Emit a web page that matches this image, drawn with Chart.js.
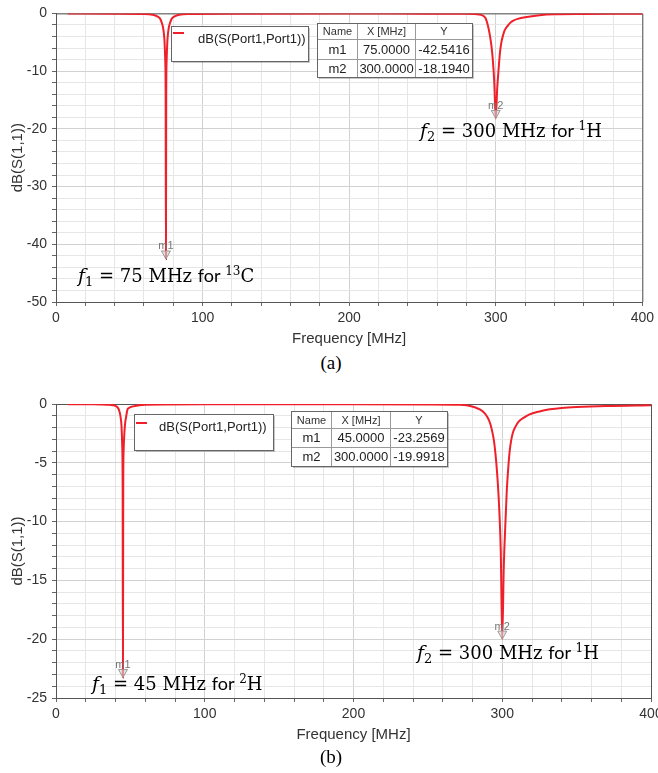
<!DOCTYPE html>
<html lang="en">
<head>
<meta charset="UTF-8">
<title>dB(S(1,1)) dual-tuned coil</title>
<script src="https://cdn.jsdelivr.net/npm/chart.js"></script>
<style>
  html, body { margin: 0; padding: 0; overflow: hidden; background: #fff; }
  body { width: 658px; height: 773px; position: relative; }
  canvas { position: absolute; left: 0; }
  .cap { position: absolute; left: 0; width: 662px; text-align: center;
         font-family: "Liberation Serif", serif; font-size: 19px; line-height: 22px; color: #000; }
</style>
</head>
<body>
<canvas id="chartA" width="658" height="350" style="top:0px"></canvas>
<div class="cap" style="top:352px">(a)</div>
<canvas id="chartB" width="670" height="360" style="top:390px"></canvas>
<div class="cap" style="top:746px">(b)</div>

<script>
// ---- data ----
const seriesName = 'dB(S(Port1,Port1))';
const xTicks = [0, 100, 200, 300, 400];

// (a) 75 MHz / 300 MHz
const freqA = [8, 40, 60, 66, 69, 71, 72, 73, 73.5, 74, 74.5, 74.8, 75, 75.2, 75.5, 76, 76.5, 77, 78, 79, 81, 84, 90,
               120, 200, 250, 280, 286, 290, 293, 294, 295, 296, 297, 298, 299, 300, 301, 302, 303, 304, 305, 306,
               308, 310, 312, 315, 320, 330, 340, 360, 380, 400];
const dbA = [-0.02, -0.04, -0.1, -0.25, -0.5, -0.9, -1.5, -2.4, -3.3, -4.7, -8, -14, -42.54, -14, -8, -4.7, -3.3, -2.4, -1.5, -0.9, -0.5, -0.25, -0.1,
             -0.04, -0.03, -0.04, -0.06, -0.12, -0.25, -0.8, -1.5, -2.5, -3.8, -5.5, -8, -12, -18.19, -13, -9.5, -6.5, -4.8, -3.8, -3.0,
             -2.2, -1.6, -1.25, -0.95, -0.65, -0.3, -0.15, -0.1, -0.07, -0.05];
const yTicksA = [0, -10, -20, -30, -40, -50];
const markerNames = ['m1', 'm2'];
const markerFreqA = [75, 300];
const markerDbA = [-42.5416, -18.1940];

// (b) 45 MHz / 300 MHz
const freqB = [8, 25, 30, 36, 40, 42, 43, 43.5, 44, 44.5, 44.8, 45, 45.2, 45.5, 46, 46.5, 47, 48, 49, 52, 60,
               100, 200, 250, 270, 276, 282, 287, 290, 292, 294, 295, 296, 297, 298, 299, 300, 301, 302, 303, 304, 305, 306,
               307, 309, 311, 314, 318, 325, 332, 340, 350, 370, 400];
const dbB = [-0.02, -0.03, -0.04, -0.07, -0.15, -0.4, -0.8, -1.2, -1.8, -3.5, -7, -23.26, -7, -3.8, -2.4, -1.6, -1.2, -0.5, -0.34, -0.2, -0.06,
             -0.03, -0.03, -0.04, -0.06, -0.1, -0.3, -0.63, -1.1, -1.7, -2.8, -3.7, -5, -6.7, -9, -12.5, -19.99, -14, -10.5, -7.5, -5.5, -4, -3.1,
             -2.5, -1.9, -1.5, -1.2, -0.9, -0.63, -0.45, -0.33, -0.25, -0.16, -0.1];
const yTicksB = [0, -5, -10, -15, -20, -25];
const markerFreqB = [45, 300];
const markerDbB = [-23.2569, -19.9918];

// ---- overlay: frame, markers, legend box, marker table, notes ----
function drawRuns(ctx, x, y, runs) {
  ctx.textAlign = 'left';
  ctx.textBaseline = 'alphabetic';
  runs.forEach(r => {
    ctx.font = r.font;
    ctx.fillText(r.t, x, y + (r.dy || 0));
    x += ctx.measureText(r.t).width;
  });
}

function makeOverlay(cfg) {
  return {
    id: 'overlay',
    beforeDatasetsDraw(chart) {
      const { ctx, chartArea: a } = chart;
      ctx.save();
      ctx.strokeStyle = '#555';
      ctx.lineWidth = 1;
      ctx.beginPath();
      ctx.moveTo(a.left, a.top + 0.5); ctx.lineTo(a.right + 0.5, a.top + 0.5);
      ctx.lineTo(a.right + 0.5, a.bottom);
      ctx.stroke();
      ctx.restore();
    },
    afterDatasetsDraw(chart) {
      const { ctx } = chart;
      const xs = chart.scales.x, ys = chart.scales.y;
      ctx.save();

      // markers
      cfg.mFreq.forEach((f, i) => {
        const px = xs.getPixelForValue(f), py = ys.getPixelForValue(cfg.mDb[i]);
        ctx.beginPath();
        ctx.moveTo(px, py); ctx.lineTo(px - 4.5, py - 8); ctx.lineTo(px + 4.5, py - 8); ctx.closePath();
        ctx.fillStyle = 'rgba(210,210,210,0.6)'; ctx.fill();
        ctx.strokeStyle = '#999'; ctx.lineWidth = 1; ctx.stroke();
        ctx.fillStyle = '#777'; ctx.font = '11px "Liberation Sans"';
        ctx.textAlign = 'center'; ctx.textBaseline = 'bottom';
        ctx.fillText(markerNames[i], px, py - 7);
      });

      // legend box
      const L = cfg.legend;
      ctx.fillStyle = 'rgba(0,0,0,0.22)';
      ctx.fillRect(L.x + 2, L.y + 2, L.w, L.h);
      ctx.fillStyle = '#fff';
      ctx.fillRect(L.x, L.y, L.w, L.h);
      ctx.strokeStyle = '#666';
      ctx.strokeRect(L.x + 0.5, L.y + 0.5, L.w, L.h);
      ctx.strokeStyle = '#f0202a'; ctx.lineWidth = 2;
      ctx.beginPath(); ctx.moveTo(L.lx0, L.ly); ctx.lineTo(L.lx1, L.ly); ctx.stroke();
      ctx.fillStyle = '#222'; ctx.font = '13px "Liberation Sans"';
      ctx.textAlign = 'left'; ctx.textBaseline = 'middle';
      ctx.fillText(seriesName, L.tx, L.ty);

      // marker table
      const T = cfg.table, cx = T.xs, cy = T.ys;
      const w = cx[3] - cx[0], h = cy[3] - cy[0];
      ctx.fillStyle = 'rgba(0,0,0,0.22)';
      ctx.fillRect(cx[0] + 2, cy[0] + 2, w, h);
      ctx.fillStyle = '#fff';
      ctx.fillRect(cx[0], cy[0], w, h);
      ctx.lineWidth = 1;
      ctx.strokeStyle = '#999';
      ctx.beginPath();
      for (let i = 1; i < 3; i++) {
        ctx.moveTo(cx[i] + 0.5, cy[0]); ctx.lineTo(cx[i] + 0.5, cy[3]);
        ctx.moveTo(cx[0], cy[i] + 0.5); ctx.lineTo(cx[3], cy[i] + 0.5);
      }
      ctx.stroke();
      ctx.strokeStyle = '#666';
      ctx.strokeRect(cx[0] + 0.5, cy[0] + 0.5, w, h);
      const rows = [['Name', 'X [MHz]', 'Y']].concat(
        markerNames.map((n, i) => [n, cfg.mFreq[i].toFixed(4), cfg.mDb[i].toFixed(4)]));
      ctx.textAlign = 'center'; ctx.textBaseline = 'middle';
      rows.forEach((r, ri) => {
        ctx.font = ri === 0 ? '11px "Liberation Sans"' : '13px "Liberation Sans"';
        ctx.fillStyle = ri === 0 ? '#333' : '#222';
        r.forEach((s, ci) => {
          ctx.fillText(s, (cx[ci] + cx[ci + 1]) / 2 + 0.5, (cy[ri] + cy[ri + 1]) / 2 + 1);
        });
      });

      // notes
      ctx.fillStyle = '#000';
      cfg.notes.forEach(n => drawRuns(ctx, n.x, n.y, n.runs));
      ctx.restore();
    }
  };
}

function noteRuns(sub, mid, sup, tail) {
  return [
    { t: 'f', font: 'italic 19px "DejaVu Serif"' },
    { t: sub, font: '13px "DejaVu Serif"', dy: 4 },
    { t: ' = ' + mid + ' ', font: '18px "DejaVu Serif"' },
    { t: 'for ', font: '18px Lato' },
    { t: sup, font: '12px "DejaVu Serif"', dy: -7 },
    { t: tail, font: '18px "DejaVu Serif"' }
  ];
}

function buildChart(id, freq, db, yTicks, minorY, yAxisW, xAxisH, pad, titlePadX, cfg) {
  const pts = freq.map((f, i) => ({ x: f, y: db[i] }));
  const yMajor = yTicks[1] - yTicks[0];
  return new Chart(document.getElementById(id), {
    type: 'line',
    data: {
      datasets: [{
        label: seriesName,
        data: pts,
        borderColor: '#f0202a',
        borderWidth: 2,
        pointRadius: 0,
        fill: false,
        cubicInterpolationMode: 'monotone'
      }]
    },
    options: {
      responsive: false,
      animation: false,
      devicePixelRatio: 1,
      layout: { padding: pad },
      plugins: { legend: { display: false }, tooltip: { enabled: false } },
      scales: {
        x: {
          type: 'linear',
          min: xTicks[0],
          max: xTicks[xTicks.length - 1],
          afterFit(s) { s.height = xAxisH; },
          ticks: {
            stepSize: 20,
            autoSkip: false,
            maxRotation: 0,
            padding: 4,
            color: '#333',
            font: { family: 'Liberation Sans', size: 14 },
            callback: v => xTicks.includes(v) ? String(v) : ''
          },
          grid: {
            color: c => (c.tick && c.tick.value % 100 === 0) ? '#d2d2d2' : '#e6e6e6',
            tickColor: '#666',
            tickLength: 4
          },
          border: { color: '#555', width: 1 },
          title: {
            display: true,
            text: 'Frequency [MHz]',
            color: '#333',
            font: { family: 'Liberation Sans', size: 15 },
            padding: { top: 0, bottom: titlePadX }
          }
        },
        y: {
          min: Math.min(...yTicks),
          max: Math.max(...yTicks),
          afterFit(s) { s.width = yAxisW; },
          ticks: {
            stepSize: minorY,
            autoSkip: false,
            padding: 5,
            color: '#333',
            font: { family: 'Liberation Sans', size: 14 },
            callback: v => yTicks.includes(v) ? String(v) : ''
          },
          grid: {
            color: c => (c.tick && Math.abs(c.tick.value % Math.abs(yMajor)) < 1e-9) ? '#d2d2d2' : '#e6e6e6',
            tickColor: '#666',
            tickLength: 4
          },
          border: { color: '#555', width: 1 },
          title: {
            display: true,
            text: 'dB(S(1,1))',
            color: '#333',
            font: { family: 'Liberation Sans', size: 15 },
            padding: { top: 9, bottom: 0 }
          }
        }
      }
    },
    plugins: [makeOverlay(cfg)]
  });
}

buildChart('chartA', freqA, dbA, yTicksA, 2, 56, 48, { top: 11, right: 14, left: 0, bottom: 0 }, 2, {
  mFreq: markerFreqA, mDb: markerDbA,
  legend: { x: 171, y: 26, w: 137, h: 35, lx0: 173, lx1: 184, ly: 33, tx: 198, ty: 39 },
  table: { xs: [317, 357, 415, 472], ys: [23, 39, 59, 77] },
  notes: [
    { x: 78, y: 282, runs: noteRuns('1', '75 MHz', '13', 'C') },
    { x: 420, y: 137, runs: noteRuns('2', '300 MHz', '1', 'H') }
  ]
});

buildChart('chartB', freqB, dbB, yTicksB, 1, 56, 52, { top: 14, right: 19, left: 0, bottom: 0 }, 6, {
  mFreq: markerFreqB, mDb: markerDbB,
  legend: { x: 134, y: 24, w: 139, h: 36, lx0: 136, lx1: 147, ly: 33, tx: 159, ty: 37 },
  table: { xs: [291, 331, 390, 447], ys: [21, 38, 57, 76] },
  notes: [
    { x: 92, y: 300, runs: noteRuns('1', '45 MHz', '2', 'H') },
    { x: 417, y: 269, runs: noteRuns('2', '300 MHz', '1', 'H') }
  ]
});
</script>
</body>
</html>
